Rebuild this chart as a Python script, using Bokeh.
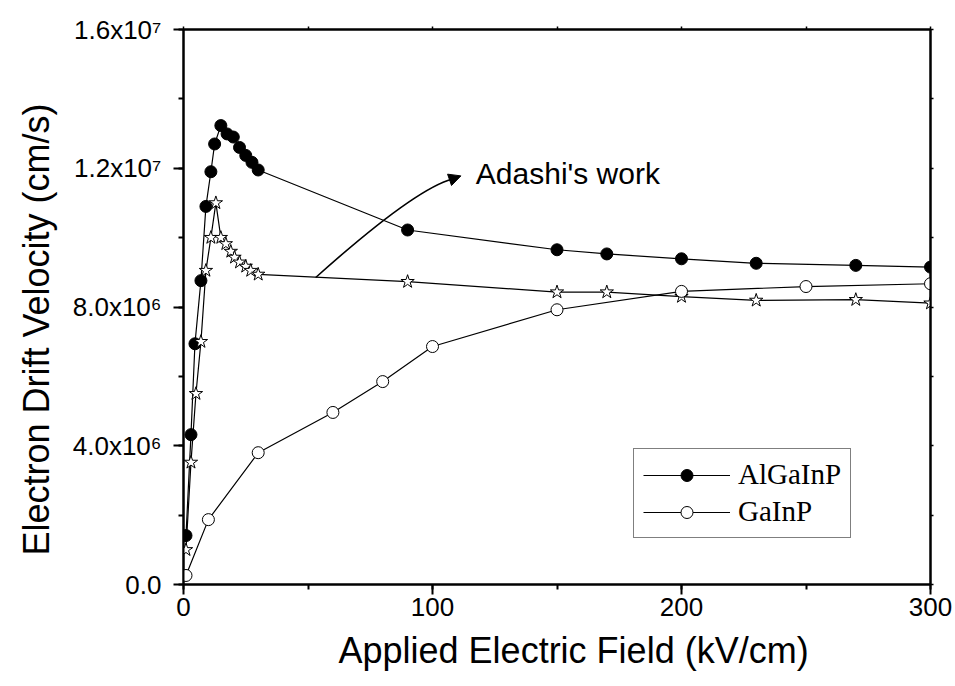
import math
from bokeh.plotting import figure
from bokeh.models import (Range1d, SingleIntervalTicker, FixedTicker, LinearAxis, Label, Legend,
                          LegendItem, Arrow, NormalHead, Title)
from bokeh.embed import file_html
from bokeh.resources import INLINE

# ---- data (velocity in units of 1e6 cm/s) ----
algainp_field = [1, 3, 4.6, 7, 9, 11, 12.5, 15, 17.5, 20, 22.5, 25, 27.5, 30,
                 90, 150, 170, 200, 230, 270, 300]
algainp_vel = [1.41, 4.32, 6.94, 8.76, 10.9, 11.9, 12.7, 13.23, 12.99, 12.9, 12.6,
               12.37, 12.17, 11.95, 10.22, 9.65, 9.53, 9.39, 9.26, 9.20, 9.15]

adashi_field = [1, 3, 5, 7, 9, 11, 13, 15, 17, 19, 20.5, 22.5, 25, 27, 30,
                90, 150, 170, 200, 230, 270, 300]
adashi_vel = [1.0, 3.52, 5.5, 7.0, 9.05, 10.0, 11.0, 10.0, 9.82, 9.6, 9.43, 9.29,
              9.17, 9.05, 8.94, 8.73, 8.43, 8.43, 8.30, 8.19, 8.21, 8.11]

gainp_field = [1, 10, 30, 60, 80, 100, 150, 200, 250, 300]
gainp_vel = [0.26, 1.87, 3.80, 4.96, 5.85, 6.86, 7.92, 8.45, 8.59, 8.67]

y_ticks = [0, 4000000, 8000000, 12000000, 16000000]
y_tick_labels = ["0.0", "4.0x10\u2076", "8.0x10\u2076", "1.2x10\u2077", "1.6x10\u2077"]

SCALE = 1e6
SANS = "Liberation Sans"
SERIF = "Liberation Serif"

p = figure(width=955, height=686, x_range=Range1d(0, 300), y_range=Range1d(0, 16e6),
           output_backend="svg", toolbar_location=None,
           min_border_left=183, min_border_right=25, min_border_top=29, min_border_bottom=102)
p.xgrid.visible = False
p.ygrid.visible = False
p.outline_line_color = "black"
p.outline_line_width = 2
p.background_fill_color = "white"
p.border_fill_color = "white"

# axes
p.xaxis.ticker = SingleIntervalTicker(interval=100, num_minor_ticks=2)
p.yaxis.ticker = SingleIntervalTicker(interval=4e6, num_minor_ticks=2)
for ax in (p.xaxis[0], p.yaxis[0]):
    ax.axis_line_width = 2
    ax.major_tick_line_width = 2
    ax.minor_tick_line_width = 2
    ax.major_tick_in = 0
    ax.major_tick_out = 10
    ax.minor_tick_in = 0
    ax.minor_tick_out = 5
    ax.axis_line_color = "black"
    ax.major_tick_line_color = "black"
    ax.minor_tick_line_color = "black"
    ax.major_label_text_font = SANS
    ax.major_label_text_font_size = "26px"
    ax.major_label_text_color = "black"
p.xaxis.major_label_standoff = 3
p.yaxis.major_label_standoff = 12
p.yaxis.major_label_overrides = dict(zip(y_ticks, y_tick_labels))

top = LinearAxis(ticker=FixedTicker(ticks=[], minor_ticks=[50 * i for i in range(7)]),
                 axis_line_width=2, major_tick_in=0, major_tick_out=0,
                 minor_tick_out=3, minor_tick_in=0, minor_tick_line_width=1.5,
                 minor_tick_line_color="black")
right = LinearAxis(ticker=FixedTicker(ticks=[], minor_ticks=[2e6 * i for i in range(9)]),
                   axis_line_width=2, major_tick_in=0, major_tick_out=0,
                   minor_tick_out=3, minor_tick_in=0, minor_tick_line_width=1.5,
                   minor_tick_line_color="black")
p.add_layout(top, "above")
p.add_layout(right, "right")

# spacer between the y axis and its title (no ticks, so nothing is drawn)
spacer = LinearAxis(ticker=FixedTicker(ticks=[], minor_ticks=[]), axis_line_color=None,
                    major_tick_line_color="black", minor_tick_line_color="black",
                    major_tick_in=0, major_tick_out=8, minor_tick_in=0, minor_tick_out=0,
                    major_label_standoff=0)
p.add_layout(spacer, "left")

# axis titles
p.add_layout(Title(text="Applied Electric Field (kV/cm)", align="left", offset=155,
                   vertical_align="top", standoff=22, text_font=SANS,
                   text_font_size="36px", text_font_style="normal", text_color="black"),
             "below")
p.add_layout(Title(text="Electron Drift Velocity (cm/s)", align="left", offset=29,
                   vertical_align="top", standoff=22, text_font=SANS,
                   text_font_size="36px", text_font_style="normal", text_color="black"),
             "left")

# series
a_y = [v * SCALE for v in algainp_vel]
d_y = [v * SCALE for v in adashi_vel]
g_y = [v * SCALE for v in gainp_vel]

l1 = p.line(algainp_field, a_y, line_color="black", line_width=1.2)
m1 = p.scatter(algainp_field, a_y, marker="circle", size=12, fill_color="black",
               line_color="black", line_width=1)
l3 = p.line(adashi_field, d_y, line_color="black", line_width=1.2)
m3 = p.scatter(adashi_field, d_y, marker="star", size=14, fill_color="white",
               line_color="black", line_width=1)
l2 = p.line(gainp_field, g_y, line_color="black", line_width=1.2)
m2 = p.scatter(gainp_field, g_y, marker="circle", size=12, fill_color="white",
               line_color="black", line_width=1)

# annotation curve + arrow
p.quadratic(x0=[53.1], y0=[8.85e6], x1=[108.2], y1=[11.70e6], cx=[92.5], cy=[11.39e6],
            line_color="black", line_width=1.6)
p.add_layout(Arrow(end=NormalHead(size=12, fill_color="black", line_color="black"),
                   x_start=108.2, y_start=11.70e6, x_end=111.4, y_end=11.78e6,
                   line_color="black", line_width=1.6))
p.add_layout(Label(x=117.4, y=11.85e6, text="Adashi's work", text_align="left",
                   text_baseline="middle", text_font=SANS, text_font_size="30px",
                   text_color="black"))

legend = Legend(items=[LegendItem(label="AlGaInP", renderers=[l1, m1]),
                       LegendItem(label="GaInP", renderers=[l2, m2])],
                location=(450, 46), orientation="vertical")
legend.label_text_font = SERIF
legend.label_text_font_size = "29px"
legend.label_text_color = "black"
legend.glyph_width = 87
legend.glyph_height = 30
legend.label_height = 30
legend.label_standoff = 8
legend.padding = 9
legend.spacing = 4
legend.margin = 0
legend.border_line_color = "black"
legend.border_line_width = 1.5
legend.background_fill_color = "white"
legend.background_fill_alpha = 1
p.add_layout(legend)

open("out.html", "w").write(file_html(p, INLINE))
